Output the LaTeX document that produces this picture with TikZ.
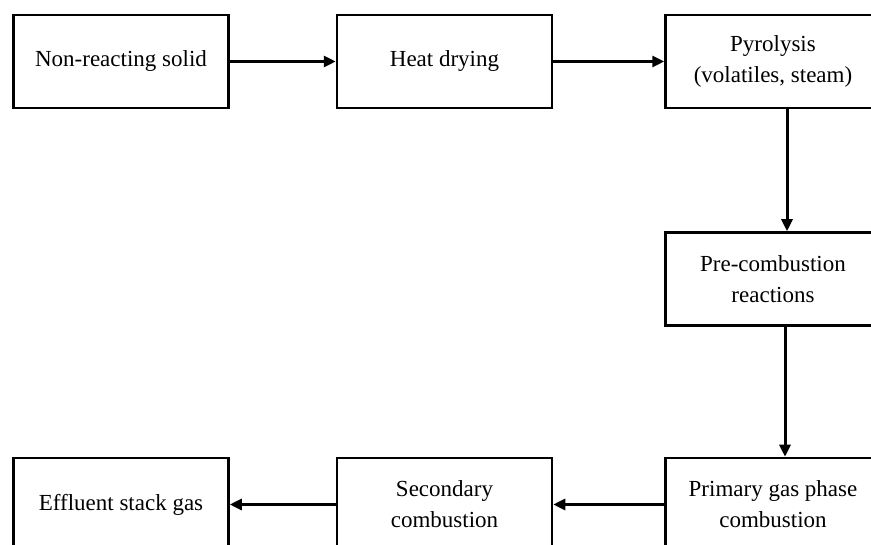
\documentclass[tikz,border=0pt]{standalone}
\usepackage{fontspec}
\setmainfont{Liberation Serif}
\usetikzlibrary{arrows.meta, positioning}

\begin{document}
\begin{tikzpicture}[x=1pt,y=-1pt,->,>={Triangle[length=12pt,width=11pt]},line width=3pt]

                \tikzset{stage/.style={draw, rectangle, line width=2.5pt, minimum width=215pt, minimum height=93pt, align=center, inner sep=0pt, font=\fontsize{23}{31}\selectfont}}

                \useasboundingbox (0,0) rectangle (871,545);

                \node[stage] (solid) at (121,61.5) {Non-reacting solid};
                \node[stage, right=106pt of solid] (drying) {Heat drying};
                \node[stage, right=111pt of drying] (pyro) {Pyrolysis\\(volatiles, steam)};
                \node[stage, below=122pt of pyro] (precomb) {Pre-combustion\\reactions};
                \node[stage, below=130pt of precomb] (primary) {Primary gas phase\\combustion};
                \node[stage, left=111pt of primary] (secondary) {Secondary\\combustion};
                \node[stage, left=106pt of secondary] (effluent) {Effluent stack gas};

                \path (solid) edge (drying);
                \path (drying) edge (pyro);
                \path ([xshift=14pt]pyro.south) edge ([xshift=14pt]precomb.north);
                \path ([xshift=12pt]precomb.south) edge ([xshift=12pt]primary.north);
                \path (primary) edge (secondary);
                \path (secondary) edge (effluent);
            \end{tikzpicture}
\end{document}
